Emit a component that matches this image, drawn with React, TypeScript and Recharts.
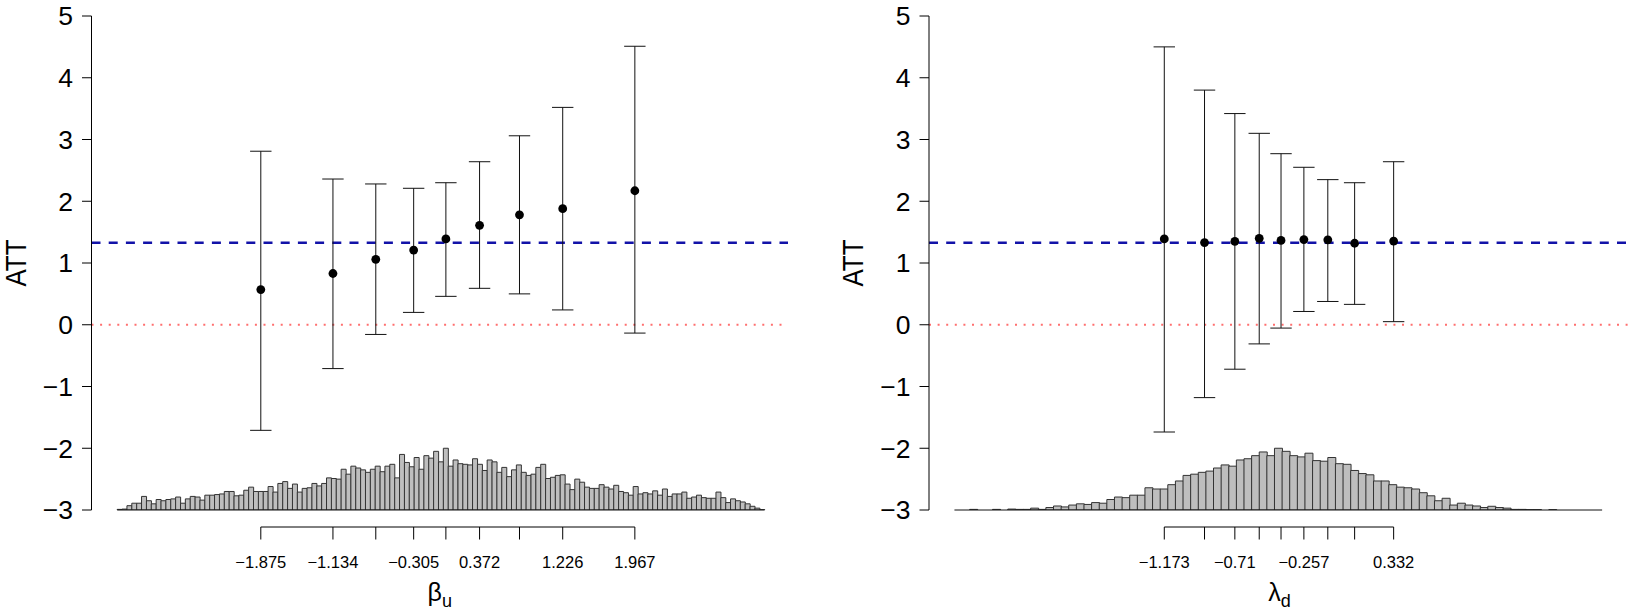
import { ComposedChart, Bar, Scatter, ErrorBar, XAxis, YAxis, ReferenceLine } from "recharts"

const FONT = '"Liberation Sans", Arial, Helvetica, sans-serif'

// average treatment effect (dashed blue line), same in both panels
const attAvg = 1.327
const yTicks = [-3, -2, -1, 0, 1, 2, 3, 4, 5]

// left panel: moderator beta_u
const betaTicks = [-1.875, -1.134, -0.694, -0.305, 0.026, 0.372, 0.782, 1.226, 1.967]
const betaTickLabels = ["−1.875", "−1.134", "", "−0.305", "", "0.372", "", "1.226", "1.967"]
const betaAtt = [0.57, 0.83, 1.06, 1.21, 1.39, 1.61, 1.78, 1.88, 2.17]
const betaLower = [-1.71, -0.71, -0.157, 0.2, 0.46, 0.59, 0.5, 0.24, -0.135]
const betaUpper = [2.81, 2.36, 2.28, 2.21, 2.3, 2.64, 3.06, 3.52, 4.51]
// histogram of beta_u, bins of 0.05 starting at -3.35 (heights in ATT units)
const betaHistStart = -3.35
const betaHist = [
    0.01, 0.015, 0.07, 0.11, 0.11, 0.22, 0.15, 0.1, 0.17, 0.15,
    0.17, 0.18, 0.21, 0.11, 0.18, 0.22, 0.21, 0.16, 0.24, 0.24,
    0.25, 0.26, 0.3, 0.3, 0.23, 0.24, 0.32, 0.37, 0.3, 0.3,
    0.3, 0.38, 0.29, 0.43, 0.46, 0.35, 0.42, 0.29, 0.35, 0.36,
    0.43, 0.39, 0.43, 0.52,
    0.51, 0.5, 0.66, 0.58, 0.71, 0.68, 0.65, 0.61, 0.66, 0.71,
    0.62, 0.71, 0.74, 0.52, 0.9, 0.77, 0.7, 0.85, 0.66, 0.88,
    0.84, 0.95, 0.78, 1.0, 0.71, 0.81, 0.75, 0.74, 0.73, 0.83,
    0.74, 0.64, 0.81, 0.78, 0.61, 0.69, 0.54, 0.65, 0.73, 0.61,
    0.56, 0.58, 0.69, 0.74, 0.51, 0.53,
    0.56, 0.57, 0.42, 0.33, 0.5, 0.45, 0.37, 0.35, 0.35, 0.41,
    0.37, 0.34, 0.4, 0.3, 0.28, 0.24, 0.38, 0.26, 0.28, 0.26,
    0.31, 0.24, 0.34, 0.22, 0.26, 0.26, 0.29, 0.19, 0.21, 0.24,
    0.2, 0.19, 0.19, 0.29, 0.2, 0.12, 0.18, 0.15, 0.13, 0.1,
    0.06, 0.03, 0.005,
]

// right panel: moderator lambda_d
const lambdaTicks = [-1.173, -0.909, -0.71, -0.55, -0.407, -0.257, -0.1, 0.076, 0.332]
const lambdaTickLabels = ["−1.173", "", "−0.71", "", "", "−0.257", "", "", "0.332"]
const lambdaAtt = [1.39, 1.33, 1.35, 1.4, 1.365, 1.38, 1.375, 1.32, 1.355]
const lambdaLower = [-1.737, -1.18, -0.72, -0.31, -0.054, 0.215, 0.377, 0.33, 0.05]
const lambdaUpper = [4.5, 3.8, 3.42, 3.1, 2.77, 2.55, 2.35, 2.3, 2.64]
const lambdaHistStart = -2.55
const lambdaHist = [
    0, 0, 0.01, 0, 0, 0.01, 0, 0.015, 0.01, 0.01,
    0.03, 0.01, 0.04, 0.065, 0.05, 0.08, 0.1, 0.09, 0.12, 0.11,
    0.17, 0.21, 0.2, 0.24, 0.24, 0.36, 0.34, 0.34,
    0.41, 0.47, 0.56, 0.58, 0.61, 0.63, 0.68, 0.73, 0.71, 0.81,
    0.83, 0.88, 0.94, 0.88, 1.0, 0.95, 0.88, 0.86, 0.92, 0.8,
    0.79, 0.85, 0.75, 0.74, 0.64, 0.59, 0.57, 0.47, 0.47,
    0.41, 0.37, 0.36, 0.34, 0.28, 0.23, 0.15, 0.19, 0.08, 0.11,
    0.08, 0.065, 0.04, 0.06, 0.04, 0.03, 0.01, 0.01, 0.005, 0.005,
    0, 0.005, 0, 0, 0, 0, 0, 0,
]
const binWidth = 0.05

const H = 614
const PLOT_TOP = 16
const PLOT_BOTTOM = 510
const AXIS_DROP = 17 // R puts the moderator axis a little under the plot region

const panels = [
    {
        left: 0, width: 815, plotLeft: 91.5, marginRight: 27,
        domain: [-3.614, 3.54], ticks: betaTicks, labels: betaTickLabels,
        att: betaAtt, lower: betaLower, upper: betaUpper,
        histStart: betaHistStart, hist: betaHist, sym: "β", sub: "u",
    },
    {
        left: 815, width: 815, plotLeft: 114, marginRight: 0,
        domain: [-2.717, 1.883], ticks: lambdaTicks, labels: lambdaTickLabels,
        att: lambdaAtt, lower: lambdaLower, upper: lambdaUpper,
        histStart: lambdaHistStart, hist: lambdaHist, sym: "λ", sub: "d",
    },
]

const fmtY = (v: number) => (v < 0 ? `−${Math.abs(v)}` : `${v}`)

function Panel({ cfg }: { cfg: any }) {
    const plotW = cfg.width - cfg.plotLeft - cfg.marginRight
    const ppu = plotW / (cfg.domain[1] - cfg.domain[0])
    const bottom = H - PLOT_BOTTOM
    const histRows = cfg.hist.map((h: number, i: number) => ({ x: cfg.histStart + (i + 0.5) * binWidth, h }))
    const histEnd = cfg.histStart + cfg.hist.length * binWidth
    const pts = cfg.att.map((y: number, i: number) => ({
        x: cfg.ticks[i],
        y,
        err: [y - cfg.lower[i], cfg.upper[i] - y],
    }))
    const span = (cfg.ticks[cfg.ticks.length - 1] - cfg.ticks[0]) * ppu

    const renderTick = (p: any) => {
        const { x, y, index } = p
        const ay = y + AXIS_DROP
        return (
            <g>
                {index === 0 && <line x1={x} y1={ay} x2={x + span} y2={ay} stroke="#000" strokeWidth={1} />}
                <line x1={x} y1={ay} x2={x} y2={ay + 12.5} stroke="#000" strokeWidth={1} />
                <text x={x} y={y + 58} textAnchor="middle" fontSize={16.5} fill="#000">
                    {cfg.labels[index]}
                </text>
            </g>
        )
    }

    const renderXLabel = (p: any) => {
        const vb = p.viewBox
        return (
            <text x={vb.x + vb.width / 2} y={vb.y + 91} textAnchor="middle" fontSize={25} fill="#000">
                {cfg.sym}
                <tspan fontSize={18} dy={6}>{cfg.sub}</tspan>
            </text>
        )
    }

    const renderYLabel = (p: any) => {
        const vb = p.viewBox
        const cx = vb.x + vb.width - 76
        const cy = vb.y + vb.height / 2
        return (
            <text
                x={cx}
                y={cy}
                transform={`rotate(-90 ${cx} ${cy})`}
                textAnchor="middle"
                dominantBaseline="central"
                fontSize={29}
                textLength={47}
                lengthAdjust="spacingAndGlyphs"
                fill="#000"
            >
                ATT
            </text>
        )
    }

    return (
        <div style={{ position: "absolute", left: cfg.left, top: 0, width: cfg.width, height: H }}>
            <div style={{ position: "absolute", left: 0, top: 0 }}>
                <ComposedChart
                    width={cfg.width}
                    height={H}
                    data={histRows}
                    margin={{ top: PLOT_TOP, right: cfg.marginRight, bottom, left: cfg.plotLeft }}
                    barCategoryGap={0}
                    barGap={0}
                >
                    <XAxis type="number" dataKey="x" domain={cfg.domain} allowDataOverflow hide />
                    <YAxis type="number" domain={[0, 8]} allowDataOverflow hide />
                    <ReferenceLine segment={[{ x: cfg.histStart, y: 0 }, { x: histEnd, y: 0 }]} stroke="#111" strokeWidth={1} />
                    <Bar dataKey="h" fill="#bebebe" stroke="#333" strokeWidth={1} isAnimationActive={false} />
                </ComposedChart>
            </div>
            <div style={{ position: "absolute", left: 0, top: 0 }}>
                <ComposedChart
                    width={cfg.width}
                    height={H}
                    margin={{ top: PLOT_TOP, right: cfg.marginRight, bottom: 0, left: 0 }}
                >
                    <XAxis
                        type="number"
                        dataKey="x"
                        domain={cfg.domain}
                        allowDataOverflow
                        ticks={cfg.ticks}
                        interval={0}
                        height={bottom}
                        axisLine={false}
                        tickLine={false}
                        tickSize={0}
                        tickMargin={0}
                        tick={renderTick}
                        label={renderXLabel}
                    />
                    <YAxis
                        type="number"
                        dataKey="y"
                        domain={[-3, 5]}
                        allowDataOverflow
                        ticks={yTicks}
                        interval={0}
                        width={cfg.plotLeft}
                        tickSize={9.5}
                        tickMargin={9}
                        tickFormatter={fmtY}
                        tick={{ fill: "#000", fontSize: 26.5 }}
                        axisLine={{ stroke: "#000" }}
                        tickLine={{ stroke: "#000" }}
                        label={renderYLabel}
                    />
                    <ReferenceLine y={0} stroke="#ff6f6f" strokeWidth={2} strokeDasharray="2 6.6" />
                    <ReferenceLine y={attAvg} stroke="#1212a8" strokeWidth={2.6} strokeDasharray="9 8.2" />
                    <Scatter
                        data={pts}
                        dataKey="y"
                        isAnimationActive={false}
                        shape={(p: any) => <circle cx={p.cx} cy={p.cy} r={4.4} fill="#000" />}
                    >
                        <ErrorBar dataKey="err" direction="y" width={10.7} stroke="#111" strokeWidth={1} />
                    </Scatter>
                </ComposedChart>
            </div>
        </div>
    )
}

export default function App() {
    return (
        <div style={{ position: "absolute", left: 0, top: 0, width: 1630, height: H, background: "#fff", fontFamily: FONT }}>
            {panels.map((cfg, i) => (
                <Panel key={i} cfg={cfg} />
            ))}
        </div>
    )
}
